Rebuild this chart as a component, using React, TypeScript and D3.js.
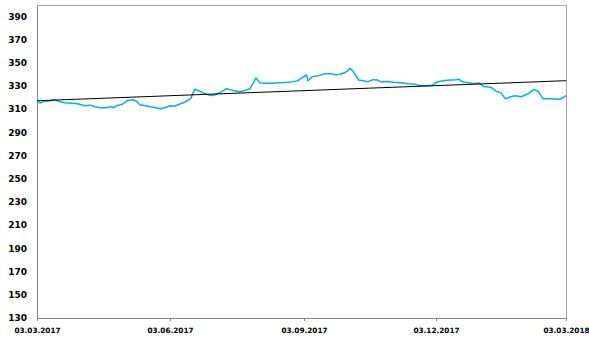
import React from "react";
import * as d3 from "d3";

const startDate = "2017-03-03";
const endDate = "2018-03-03";
// day offsets from startDate and closing values
const dayOffsets = [0,2,4,9,12,16,19,24,28,33,37,40,44,47,51,53,55,59,62,66,69,71,75,78,82,85,88,92,95,99,102,106,109,113,116,120,123,127,131,133,137,140,144,147,151,154,161,168,173,177,180,184,186,187,190,194,199,203,206,209,213,216,218,222,225,228,232,235,237,242,246,251,256,261,263,268,273,276,280,285,289,291,294,298,301,305,308,313,317,320,323,327,330,334,339,343,346,349,355,358,361,364,365];
const values = [317.7,315.5,316.6,317.4,318.3,316.6,315.7,315.3,314.8,313.1,313.6,312.3,311.4,311.4,312.3,311.4,313.1,314.4,317.4,318.3,316.6,314.0,313.1,312.3,311.4,310.5,311.4,313.1,312.7,314.8,316.1,319.2,327.4,325.2,323.5,322.0,322.6,325.0,327.8,327.0,325.8,325.2,326.5,327.8,337.0,332.7,332.6,333.0,333.4,333.9,334.7,338.2,339.6,334.7,338.2,339.0,340.8,340.6,339.9,340.3,342.0,345.3,342.9,335.3,334.7,333.9,335.6,335.2,333.9,334.1,333.4,333.0,332.1,331.7,330.7,330.4,330.8,333.6,334.7,335.2,335.6,336.0,333.4,333.0,332.1,332.7,329.8,329.1,325.5,324.4,319.2,320.9,321.8,320.9,323.5,327.2,325.2,319.2,319.2,318.7,318.7,320.9,321.8];
const trendValues = [317.4, 334.7];
const yTicks = [130,150,170,190,210,230,250,270,290,310,330,350,370,390];
const xTickLabels = ["03.03.2017","03.06.2017","03.09.2017","03.12.2017","03.03.2018"];
const yDomain = [130, 400];

const W = 589, H = 343;
const M = { left: 37, right: 23, top: 5, bottom: 25 };

export default function App() {
  const parse = d3.timeParse("%Y-%m-%d");
  const parseTick = d3.timeParse("%d.%m.%Y");
  const t0 = parse(startDate)!;
  const t1 = parse(endDate)!;
  const x = d3.scaleTime().domain([t0, t1]).range([M.left, W - M.right]);
  const y = d3.scaleLinear().domain(yDomain).range([H - M.bottom, M.top]);
  const pts = dayOffsets.map((d, i) => [d3.timeDay.offset(t0, d), values[i]] as [Date, number]);
  const line = d3.line<[Date, number]>().x(d => x(d[0])).y(d => y(d[1]));
  const trend: [Date, number][] = [[t0, trendValues[0]], [t1, trendValues[1]]];
  const x0 = M.left, x1 = W - M.right, yb = H - M.bottom, yt = M.top;
  const font = "'DejaVu Sans', sans-serif";
  return (
    <svg width={W} height={H} style={{ position: "fixed", left: 0, top: 0, background: "#fff" }}>
      <rect x={0} y={0} width={W} height={H} fill="#fff" />
      <line x1={x0} x2={x1} y1={yt + 0.5} y2={yt + 0.5} stroke="#a6a6a6" />
      <line x1={x1 + 0.5} x2={x1 + 0.5} y1={yt} y2={yb} stroke="#a6a6a6" />
      <line x1={x0 + 0.5} x2={x0 + 0.5} y1={yt} y2={yb} stroke="#868686" />
      <line x1={x0} x2={x1} y1={yb + 0.5} y2={yb + 0.5} stroke="#868686" />
      {xTickLabels.map((l, i) => {
        const px = Math.round(x(parseTick(l)!)) + 0.5;
        return (
          <g key={i}>
            <line x1={px} x2={px} y1={yb} y2={yb + 3} stroke="#868686" />
            <text x={px} y={yb + 15} textAnchor="middle" fontFamily={font} fontWeight="bold" fontSize={7.3} fill="#000">{l}</text>
          </g>
        );
      })}
      {yTicks.map(v => (
        <text key={v} x={27} y={y(v)} dy="0.35em" textAnchor="end" fontFamily={font} fontWeight="bold" fontSize={9} fill="#000">{v}</text>
      ))}
      <path d={line(pts)!} fill="none" stroke="#00b0f0" strokeWidth={1.5} strokeLinejoin="round" />
      <path d={line(trend)!} fill="none" stroke="#000" strokeWidth={1} />
    </svg>
  );
}
